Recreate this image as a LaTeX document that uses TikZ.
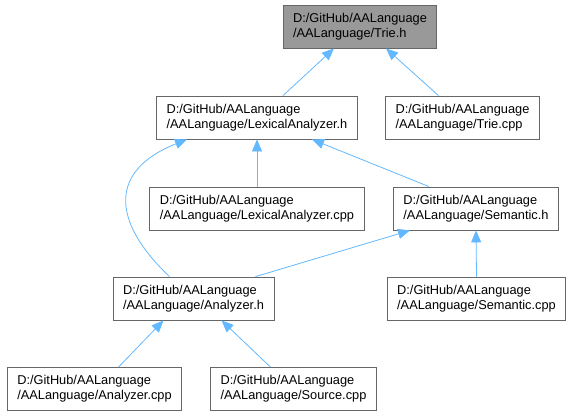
\documentclass[tikz,border=0pt]{standalone}
\usepackage{fontspec}
\setmainfont{Liberation Sans}
\usetikzlibrary{arrows.meta}
\definecolor{edgeblue}{HTML}{63B8FF}
\definecolor{boxgray}{HTML}{666666}
\definecolor{rootfill}{HTML}{999999}
\tikzset{
  file/.style={draw=boxgray,fill=white,line width=0.8pt,align=left,inner xsep=10pt,
    minimum height=43pt,font=\fontsize{12.8}{15}\selectfont},
  root/.style={file,fill=rootfill},
  dep/.style={edgeblue,line width=0.8pt,-{Triangle[length=12pt,width=10pt]}},
}
\begin{document}
\begin{tikzpicture}[x=1pt,y=-1pt]
  \useasboundingbox (0,0) rectangle (573,416);
  % headers and sources, row by row
  \node[root] (trieh) at (360,26.5) {D:/GitHub/AALanguage\\/AALanguage/Trie.h};
  \node[file] (lexh) at (257,117.5) {D:/GitHub/AALanguage\\/AALanguage/LexicalAnalyzer.h};
  \node[file] (triecpp) at (462.5,117.5) {D:/GitHub/AALanguage\\/AALanguage/Trie.cpp};
  \node[file] (lexcpp) at (257,208.5) {D:/GitHub/AALanguage\\/AALanguage/LexicalAnalyzer.cpp};
  \node[file] (semh) at (476,208.5) {D:/GitHub/AALanguage\\/AALanguage/Semantic.h};
  \node[file] (anh) at (193.5,298.5) {D:/GitHub/AALanguage\\/AALanguage/Analyzer.h};
  \node[file] (semcpp) at (476.5,298.5) {D:/GitHub/AALanguage\\/AALanguage/Semantic.cpp};
  \node[file] (ancpp) at (94.5,389) {D:/GitHub/AALanguage\\/AALanguage/Analyzer.cpp};
  \node[file] (srccpp) at (293.5,389) {D:/GitHub/AALanguage\\/AALanguage/Source.cpp};
  % includes
  \draw[dep] ([xshift=26pt]lexh.north) -- ([xshift=-26pt]trieh.south);
  \draw[dep] ([xshift=-24pt]triecpp.north) -- ([xshift=26pt]trieh.south);
  \draw[dep] (lexcpp.north) -- (lexh.south);
  \draw[dep] ([xshift=-47pt]semh.north) -- ([xshift=55pt]lexh.south);
  \draw[dep] ([xshift=-24pt]anh.north) .. controls (110,220) and (110,170) .. ([xshift=-70pt]lexh.south);
  \draw[dep] ([xshift=62pt]anh.north) -- ([xshift=-66pt]semh.south);
  \draw[dep] (semcpp.north) -- (semh.south);
  \draw[dep] ([xshift=24pt]ancpp.north) -- ([xshift=-30pt]anh.south);
  \draw[dep] ([xshift=-23pt]srccpp.north) -- ([xshift=28pt]anh.south);
\end{tikzpicture}
\end{document}
